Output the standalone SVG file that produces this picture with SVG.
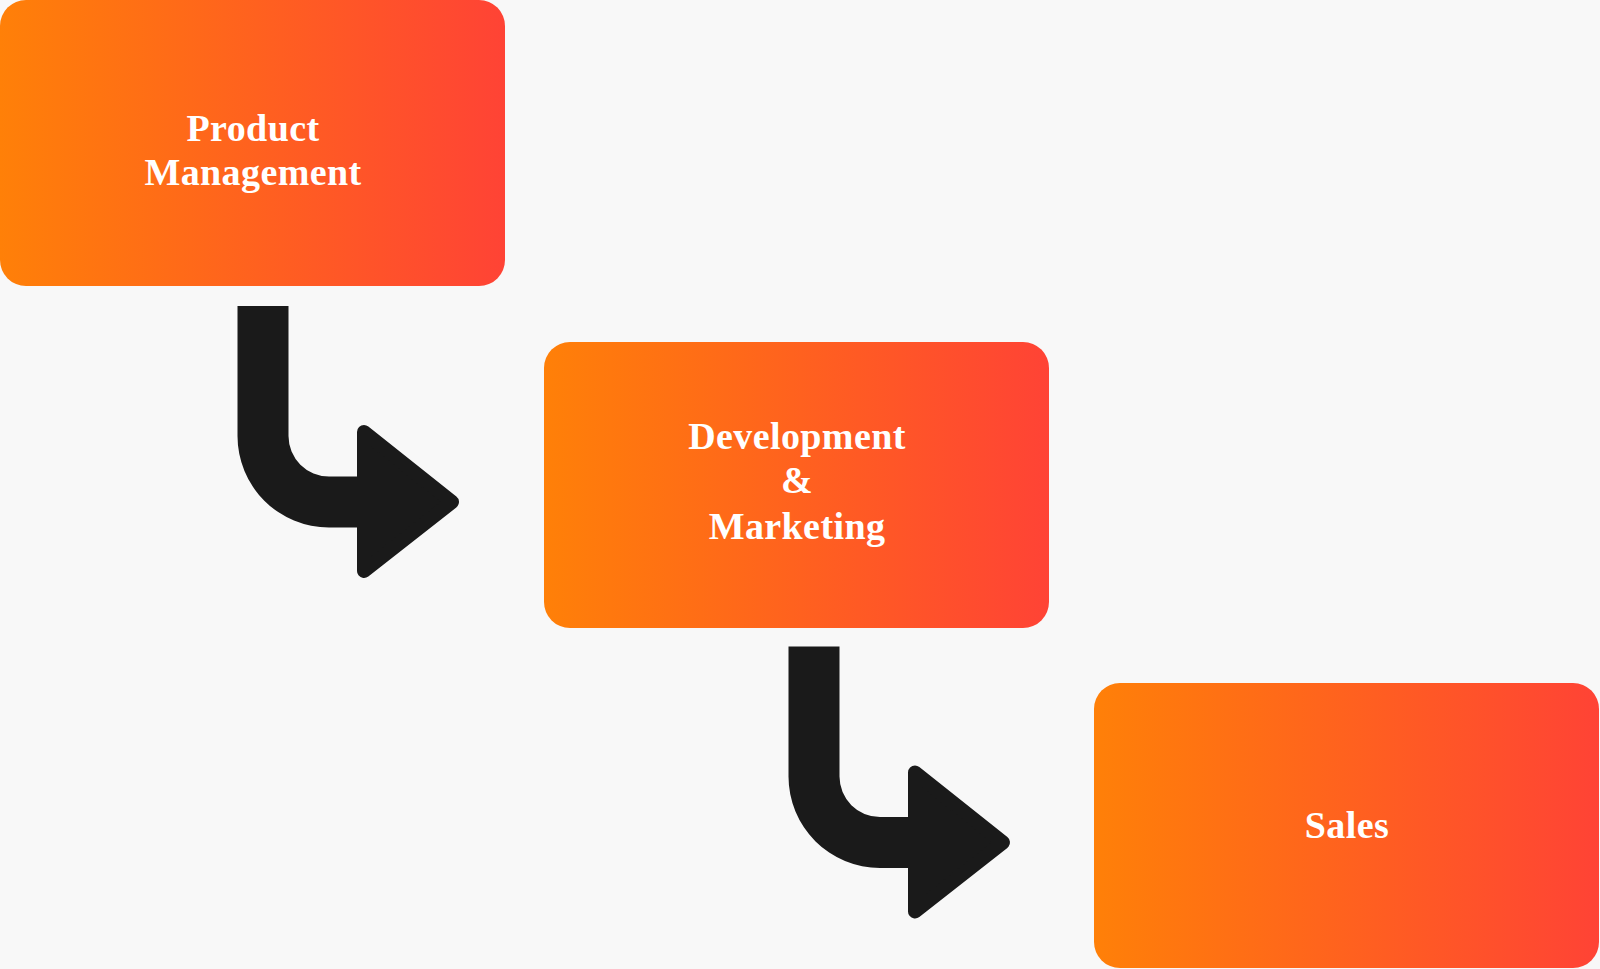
<svg xmlns="http://www.w3.org/2000/svg" width="1600" height="969" viewBox="0 0 1600 969">
  <style>
    .box { fill: url(#grad); }
    .label { font-family: "Liberation Serif", "Times New Roman", serif; font-weight: bold; font-size: 38px; letter-spacing: 0.4px; fill: #ffffff; text-anchor: middle; }
    .arrow { fill: #1a1a1a; }
    .head { fill: #1a1a1a; stroke: #1a1a1a; stroke-width: 14; stroke-linejoin: round; }
  </style>
  <defs>
    <linearGradient id="grad" x1="0" y1="0" x2="1" y2="0">
      <stop offset="0" stop-color="#ff8008"/>
      <stop offset="1" stop-color="#ff4335"/>
    </linearGradient>
    <g id="bend">
      <path class="arrow" d="M237.5,306 H288.5 V436 A40.5,40.5 0 0 0 329,476.5 H365 V527.5 H329 A91.5,91.5 0 0 1 237.5,436 Z"/>
      <polygon class="head" points="364,432 452,502 364,571"/>
    </g>
  </defs>
  <rect x="0" y="0" width="1600" height="969" fill="#f8f8f8"/>

  <g id="connectors">
    <use id="arrow-1" href="#bend"/>
    <use id="arrow-2" href="#bend" transform="translate(551,340.5)"/>
  </g>

  <g id="node-product-management">
    <rect class="box" x="0" y="0" width="505" height="286" rx="26"/>
    <text class="label" x="253" y="141">Product</text>
    <text class="label" x="253" y="185">Management</text>
  </g>

  <g id="node-development-marketing">
    <rect class="box" x="544" y="342" width="505" height="286" rx="26"/>
    <text class="label" x="797" y="449">Development</text>
    <text class="label" x="797" y="493">&amp;</text>
    <text class="label" x="797" y="539">Marketing</text>
  </g>

  <g id="node-sales">
    <rect class="box" x="1094" y="683" width="505" height="285" rx="26"/>
    <text class="label" x="1347" y="838">Sales</text>
  </g>
</svg>
